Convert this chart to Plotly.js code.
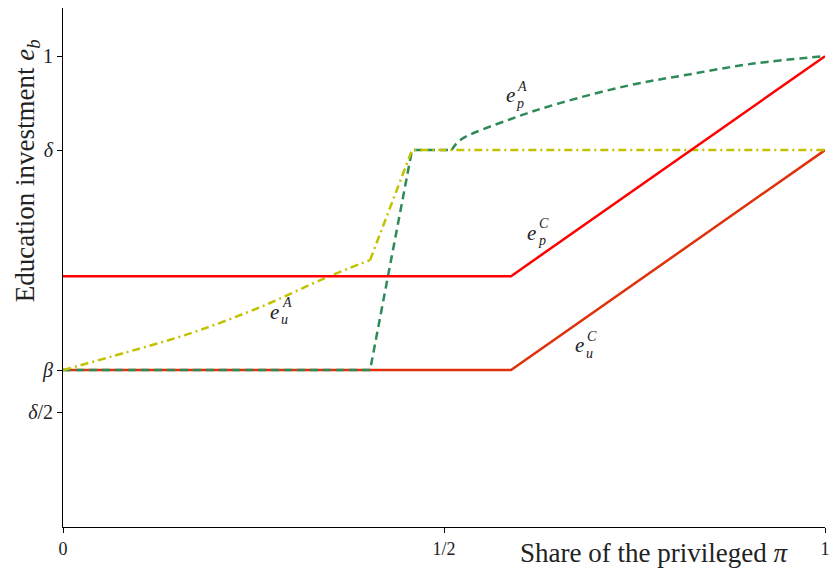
<!DOCTYPE html>
<html>
<head>
<meta charset="utf-8">
<script src="https://cdn.plot.ly/plotly-3.0.1.min.js"></script>
<style>html,body{margin:0;padding:0;background:#fff;}</style>
</head>
<body>
<div id="chart" style="width:833px;height:569px;"></div>
<script>
// Parameter values
var beta = 0.492;
var delta = 0.848;

// e_p^C (privileged, C)
var epC_x = [0, 0.588, 1];
var epC_y = [0.644, 0.644, 1];

// e_u^C (unprivileged, C)
var euC_x = [0, 0.588, 1];
var euC_y = [beta, beta, delta];

// e_p^A (privileged, A) - dashed green: linear part, then curved part
var epA_lin_x = [0, 0.403, 0.458, 0.510];
var epA_lin_y = [beta, beta, delta, delta];
var epA_cur_x = [0.510, 0.521, 0.587, 0.652, 0.740, 0.819, 0.906, 1];
var epA_cur_y = [delta, 0.864, 0.898, 0.924, 0.952, 0.970, 0.988, 1];

// e_u^A (unprivileged, A) - dash-dot yellow: curved part, then linear part
var euA_cur_x = [0, 0.084, 0.171, 0.259, 0.346, 0.403];
var euA_cur_y = [beta, 0.521, 0.553, 0.594, 0.642, 0.670];
var euA_lin_x = [0.403, 0.458, 1];
var euA_lin_y = [0.670, delta, delta];

// tick labels
var xTickVals = [0, 0.5, 1];
var xTickText = ['0', '1/2', '1'];
var yTickVals = [1, delta, beta, delta / 2];
var yTickText = ['1', '<i>δ</i>', '<i>β</i>', '<i>δ</i>/2'];

var serif = 'Liberation Serif, DejaVu Serif, serif';

var green = {color: '#2e8b57', width: 2.5, dash: '8px,5px'};
var yellow = {color: '#c2c200', width: 2.5, dash: '8px,4px,2px,4px'};

var traces = [
  {x: euC_x, y: euC_y, mode: 'lines', line: {color: '#e0310a', width: 2.5}, hoverinfo: 'skip'},
  {x: epA_lin_x, y: epA_lin_y, mode: 'lines', line: green, hoverinfo: 'skip'},
  {x: epA_cur_x, y: epA_cur_y, mode: 'lines', line: Object.assign({shape: 'spline', smoothing: 1}, green), hoverinfo: 'skip'},
  {x: euA_cur_x, y: euA_cur_y, mode: 'lines', line: Object.assign({shape: 'spline', smoothing: 1}, yellow), hoverinfo: 'skip'},
  {x: euA_lin_x, y: euA_lin_y, mode: 'lines', line: yellow, hoverinfo: 'skip'},
  {x: epC_x, y: epC_y, mode: 'lines', line: {color: '#ff0000', width: 2.5}, hoverinfo: 'skip'}
];

var annotations = [];
function addLabel(x, y, sup, sub) {
  annotations.push({x: x, y: y, xref: 'x', yref: 'y', text: '<i>e</i>', showarrow: false,
    font: {family: serif, size: 21, color: '#222'}, xanchor: 'center', yanchor: 'middle'});
  annotations.push({x: x, y: y, xref: 'x', yref: 'y', text: '<i>' + sup + '</i>', showarrow: false,
    font: {family: serif, size: 14, color: '#222'}, xanchor: 'left', yanchor: 'middle', xshift: 5, yshift: 9});
  annotations.push({x: x, y: y, xref: 'x', yref: 'y', text: '<i>' + sub + '</i>', showarrow: false,
    font: {family: serif, size: 14, color: '#222'}, xanchor: 'left', yanchor: 'middle', xshift: 4, yshift: -8});
}
addLabel(0.587, 0.937, 'A', 'p');
addLabel(0.615, 0.714, 'C', 'p');
addLabel(0.678, 0.532, 'C', 'u');
addLabel(0.278, 0.586, 'A', 'u');

annotations.push({xref: 'paper', yref: 'paper', x: 0.776, y: -0.05, xanchor: 'center', yanchor: 'middle',
  text: 'Share of the privileged <i>π</i>', showarrow: false, font: {family: serif, size: 27, color: '#222'}});
annotations.push({xref: 'paper', x: -0.047, yref: 'y', y: 0.814, xanchor: 'center', yanchor: 'middle', textangle: -90,
  text: 'Education investment <i>e<sub>b</sub></i>', showarrow: false, font: {family: serif, size: 27, color: '#222'}});

var layout = {
  width: 833, height: 569,
  margin: {l: 63, r: 8, t: 8, b: 42},
  paper_bgcolor: '#fff', plot_bgcolor: '#fff',
  showlegend: false,
  xaxis: {
    range: [0, 1], showgrid: false, zeroline: false, showline: true, linecolor: '#000', linewidth: 1,
    ticks: 'outside', ticklen: 5, tickcolor: '#000', tickvals: xTickVals, ticktext: xTickText,
    tickfont: {family: serif, size: 18, color: '#222'}
  },
  yaxis: {
    range: [0.238, 1.078], showgrid: false, zeroline: false, showline: true, linecolor: '#000', linewidth: 1,
    ticks: 'outside', ticklen: 5, tickcolor: '#000', tickvals: yTickVals, ticktext: yTickText,
    tickfont: {family: serif, size: 20, color: '#222'}
  },
  annotations: annotations
};

Plotly.newPlot('chart', traces, layout, {displayModeBar: false, staticPlot: true});
</script>
</body>
</html>
